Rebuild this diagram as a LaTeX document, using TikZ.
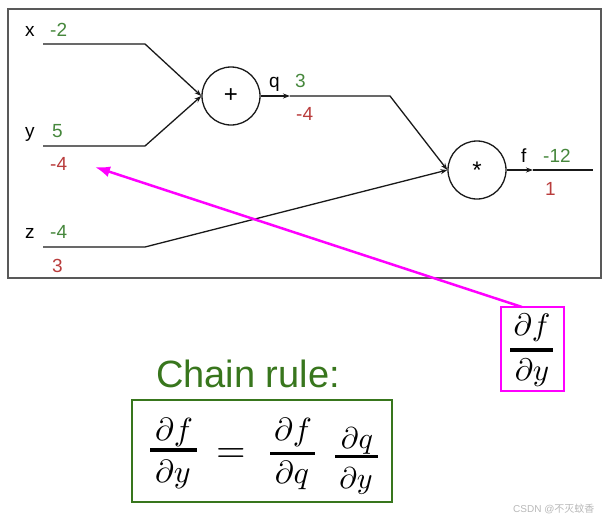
\documentclass[tikz,border=0pt]{standalone}
\usepackage{amsmath}
\usepackage{graphicx}
\usepackage{fontspec}
\setmainfont{Liberation Sans}
\newfontfamily\cjk{Noto Sans CJK SC}
\usetikzlibrary{arrows.meta}
\definecolor{lblgreen}{RGB}{70,135,60}
\definecolor{lblred}{RGB}{185,60,60}
\definecolor{chaingreen}{RGB}{56,118,29}
\definecolor{wire}{RGB}{25,25,25}
\definecolor{mag}{RGB}{255,0,255}
\begin{document}
\begin{tikzpicture}[x=1pt,y=-1pt,
  lbl/.style={anchor=base west,inner sep=0pt,font=\fontsize{19}{21}\selectfont},
  fwd/.style={lbl,text=lblgreen},
  bwd/.style={lbl,text=lblred},
  gate/.style={circle,draw=wire,line width=1.3pt,minimum size=58pt,inner sep=0pt,font=\fontsize{24}{26}\selectfont},
  wireln/.style={draw=wire,line width=1.3pt},
  tip/.style={-{Stealth[length=7pt,width=5pt]}},
  mth/.style={inner sep=0pt,anchor=base},
  fbar/.style={line width=3.2pt,draw=black}]
\path[use as bounding box] (0,0) rectangle (612,522);
% outer frame
\draw[draw=black!65,line width=1.3pt] (8,9) rectangle (601,278);
% gates
\node[gate] (plus) at (231,96) {+};
\node[gate] (mul) at (477,170) {\raisebox{-6pt}{*}};
% coordinates
\coordinate (x0) at (43,44);  \coordinate (xb) at (145,44);
\coordinate (y0) at (43,146); \coordinate (yb) at (145,146);
\coordinate (z0) at (43,247); \coordinate (zb) at (145,247);
\coordinate (qm) at (290,96); \coordinate (qb) at (390,96);
\coordinate (fm) at (533,170); \coordinate (fe) at (593,170);
% wires
\draw[wireln,tip] (x0) -- (xb) -- (plus.west);
\draw[wireln,tip] (y0) -- (yb) -- (plus.west);
\draw[wireln,tip] (plus.east) -- (qm);
\draw[wireln,tip] (qm) -- (qb) -- (mul.west);
\draw[wireln,tip] (z0) -- (zb) -- (mul.west);
\draw[wireln,tip] (mul.east) -- (fm);
\draw[wireln] (fm) -- (fe);
% labels
\node[lbl] (lx) at (25,36) {x};
\node[fwd] (vx) at (50,36) {-2};
\node[lbl] (ly) at (25,137) {y};
\node[fwd] (vy) at (52,137) {5};
\node[bwd] (gy) at (50,170) {-4};
\node[lbl] (lz) at (25,238) {z};
\node[fwd] (vz) at (50,238) {-4};
\node[bwd] (gz) at (52,272) {3};
\node[lbl] (lq) at (269,87) {q};
\node[fwd] (vq) at (295,87) {3};
\node[bwd] (gq) at (296,120) {-4};
\node[lbl] (lf) at (521,162) {f};
\node[fwd] (vf) at (543,162) {-12};
\node[bwd] (gf) at (545,195) {1};
% magenta box
\node[draw=mag,line width=2pt,minimum width=63pt,minimum height=84pt,inner sep=0pt] (dfdybox) at (532.5,349) {};
\node[mth] (mn) at (532,335) {\scalebox{3.1}{$\partial f$}};
\node[mth] (md) at (532,380) {\scalebox{3.1}{$\partial y$}};
\draw[fbar] (510,350) -- (553,350);
\coordinate (mstart) at (522,307);
\coordinate (mtip) at (95,167);
\draw[draw=mag,line width=2.5pt,-{Latex[length=15pt,width=11pt]}] (mstart) -- (mtip);
% chain rule
\node[anchor=base west,inner sep=0pt,text=chaingreen,font=\fontsize{38}{42}\selectfont] (chain) at (156,387) {Chain rule:};
\node[draw=chaingreen,line width=1.8pt,minimum width=260pt,minimum height=102pt,inner sep=0pt] (eqbox) at (262,451) {};
% df/dy
\node[mth] (e1n) at (174,440) {\scalebox{3.2}{$\partial f$}};
\node[mth] (e1d) at (173,482) {\scalebox{3.2}{$\partial y$}};
\draw[fbar] (150,450) -- (197,450);
% =
\node[mth] (eq) at (231,462) {\scalebox{3.8}{$=$}};
% df/dq
\node[mth] (e3n) at (293,440) {\scalebox{3.2}{$\partial f$}};
\node[mth] (e3d) at (292,483) {\scalebox{3.2}{$\partial q$}};
\draw[fbar] (270,453.5) -- (315,453.5);
% dq/dy
\node[mth] (e4n) at (357,448) {\scalebox{3.0}{$\partial q$}};
\node[mth] (e4d) at (356,488) {\scalebox{3.0}{$\partial y$}};
\draw[fbar] (335,456.5) -- (378,456.5);
% watermark
\node[anchor=base west,inner sep=0pt,text=black!28,font=\fontsize{10}{12}\selectfont] (wm) at (513,512) {CSDN @{\cjk 不灭蚊香}};
\end{tikzpicture}
\end{document}
